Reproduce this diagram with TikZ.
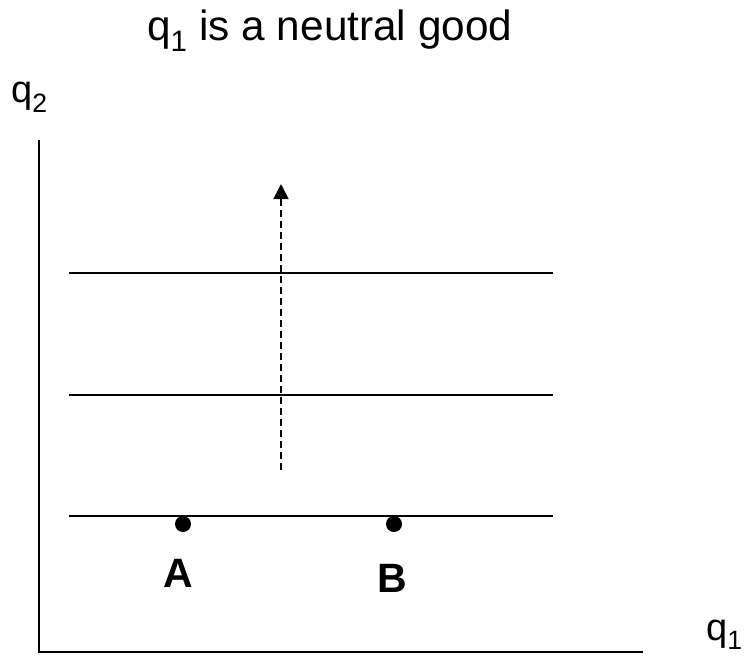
\documentclass[tikz,border=0pt]{standalone}
\usepackage{fontspec}
\setmainfont{Liberation Sans}
\usetikzlibrary{arrows.meta}
\begin{document}
\begin{tikzpicture}[x=1pt,y=-1pt,
  curve/.style={line width=1.6pt},
  axis/.style={line width=2pt},
  dot/.style={circle,fill=black,inner sep=0pt,minimum size=16pt},
  lbl/.style={font=\fontsize{38}{44}\selectfont,inner sep=0pt},
  ttl/.style={font=\fontsize{42.3}{48}\selectfont,inner sep=0pt},
  pt/.style={font=\fontsize{41}{48}\selectfont\bfseries,inner sep=0pt}]
\useasboundingbox (0,0) rectangle (745,657);
\node[ttl,anchor=base west] (title) at (147,40) {q\textsubscript{1} is a neutral good};
\node[lbl,anchor=base west] (q2) at (11,102) {q\textsubscript{2}};
\node[lbl,anchor=base west] (q1) at (706,640) {q\textsubscript{1}};
\coordinate (o) at (39,652);
\coordinate (ytop) at (39,140);
\coordinate (xend) at (643,652);
\draw[axis] (ytop) -- (o) -- (xend);
\coordinate (l1a) at (69,273); \coordinate (l1b) at (553,273);
\coordinate (l2a) at (69,395); \coordinate (l2b) at (553,395);
\coordinate (l3a) at (69,516); \coordinate (l3b) at (553,516);
\draw[curve] (l1a) -- (l1b);
\draw[curve] (l2a) -- (l2b);
\draw[curve] (l3a) -- (l3b);
\coordinate (as) at (281,470);
\coordinate (ae) at (281,184);
\draw[line width=1.8pt,dash pattern=on 7pt off 4pt,-{Triangle[length=15pt,width=15pt]}] (as) -- (ae);
\node[dot] (A) at (183,524) {};
\node[dot] (B) at (394,524) {};
\node[pt,anchor=base] (Alab) at (178,587) {A};
\node[pt,anchor=base] (Blab) at (392,592) {B};
\end{tikzpicture}
\end{document}
